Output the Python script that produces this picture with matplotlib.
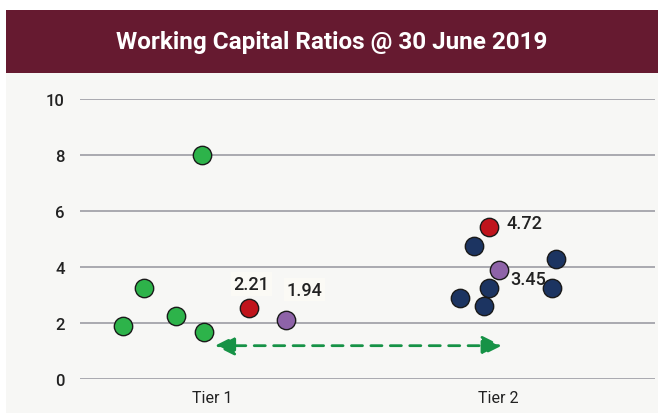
import numpy as np
import matplotlib.pyplot as plt
from matplotlib.patches import Rectangle

# data
tier_labels = ['Tier 1', 'Tier 2']
tier1_x = [0.688, 0.762, 0.874, 0.963, 0.972]
tier1_y = [1.90, 3.24, 2.24, 8.00, 1.67]
tier2_x = [1.915, 2.202, 1.970, 2.190, 1.867, 1.952]
tier2_y = [4.76, 4.29, 3.24, 3.24, 2.88, 2.60]
red_x = [1.128, 1.970]
red_y = [2.55, 5.43]
red_labels = ['2.21', '4.72']
purple_x = [1.259, 2.002]
purple_y = [2.10, 3.88]
purple_labels = ['1.94', '3.45']
yticks = [0, 2, 4, 6, 8, 10]

plt.rcParams['font.family'] = ['Roboto', 'DejaVu Sans']

W, H = 658, 414
fig = plt.figure(figsize=(W / 100, H / 100), dpi=100)
fig.patch.set_facecolor('white')

# grey panel and maroon title banner
fig.patches.append(Rectangle((6 / W, 0), 1, (H - 74) / H, transform=fig.transFigure,
                             facecolor='#f7f7f5', edgecolor='none', zorder=-10))
fig.patches.append(Rectangle((6 / W, (H - 74) / H), 1, 63 / H, transform=fig.transFigure,
                             facecolor='#661a30', edgecolor='none', zorder=-10))
fig.text((6 + W) / 2 / W, (H - 42.5) / H, 'Working Capital Ratios @ 30 June 2019',
         color='white', fontsize=17.5, fontweight='bold', ha='center', va='center')

ax = fig.add_axes([80 / W, (H - 380) / H, 575 / W, 280 / H])
ax.set_facecolor('none')
ax.set_xlim(0.538, 2.549)
ax.set_ylim(0, 10)
for s in ax.spines.values():
    s.set_visible(False)
for t in yticks:
    ax.axhline(t, color='#9c9ca4', lw=1.2, zorder=1)
ax.set_yticks(yticks)
ax.set_xticks([1, 2])
ax.set_xticklabels(tier_labels)
ax.tick_params(axis='y', length=0, pad=11, labelsize=12, labelcolor='#222222')
ax.tick_params(axis='x', length=0, pad=8, labelsize=11.5, labelcolor='#222222')
for lab in ax.get_yticklabels():
    lab.set_fontweight('medium')

mk = dict(s=175, edgecolors='#1a1a1a', linewidths=1.0, zorder=3, clip_on=False)
ax.scatter(tier1_x, tier1_y, c='#2db34a', **mk)
ax.scatter(tier2_x, tier2_y, c='#1c3461', **mk)
ax.scatter(red_x, red_y, c='#c0141c', **mk)
ax.scatter(purple_x, purple_y, c='#8e63a8', **mk)

# value labels
lab_style = dict(fontsize=13, fontweight='medium', color='#222222', zorder=4)
ax.annotate(red_labels[0], (red_x[0], red_y[0]), xytext=(2, 17), textcoords='offset points',
            ha='center', va='center',
            bbox=dict(boxstyle='square,pad=0.15', fc='#fbfaf5', ec='none'), **lab_style)
ax.annotate(purple_labels[0], (purple_x[0], purple_y[0]), xytext=(13, 22), textcoords='offset points',
            ha='center', va='center',
            bbox=dict(boxstyle='square,pad=0.15', fc='#fbfaf5', ec='none'), **lab_style)
ax.annotate(red_labels[1], (red_x[1], red_y[1]), xytext=(25, 3), textcoords='offset points',
            ha='center', va='center', **lab_style)
ax.annotate(purple_labels[1], (purple_x[1], purple_y[1]), xytext=(21, -6), textcoords='offset points',
            ha='center', va='center', **lab_style)

# dashed double arrow between tiers
ax.annotate('', xy=(1.01, 1.19), xytext=(2.013, 1.19),
            arrowprops=dict(arrowstyle='<|-|>,head_length=0.6,head_width=0.3', color='#169246',
                            lw=2, ls=(0, (4, 3)), mutation_scale=20, shrinkA=0, shrinkB=0))

fig.savefig('out.png', dpi=100)
